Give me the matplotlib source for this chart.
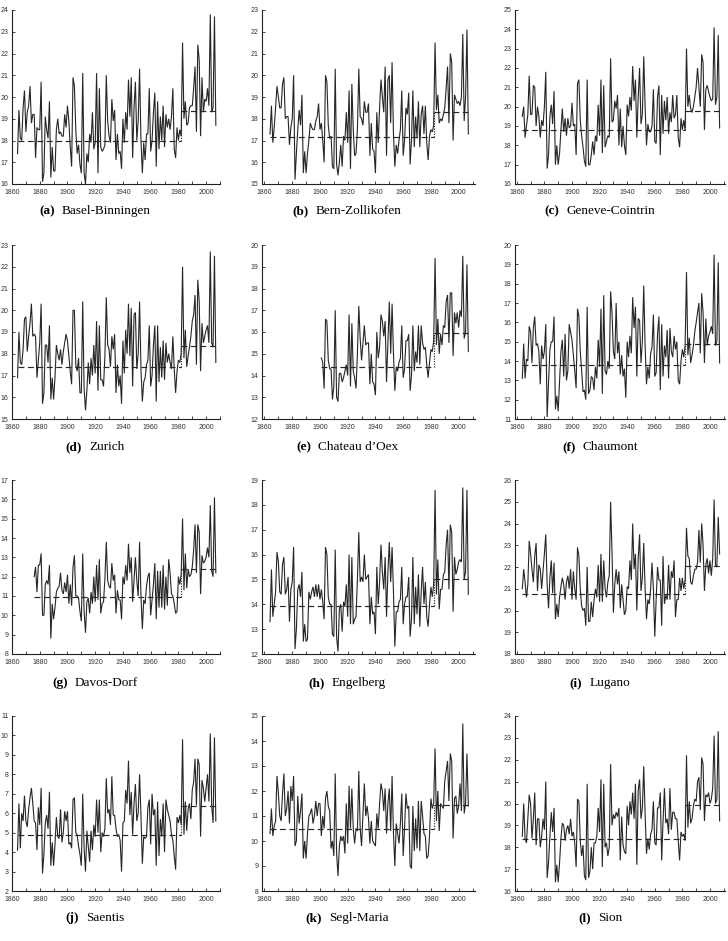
import numpy as np
import matplotlib
matplotlib.use("Agg")
import matplotlib.pyplot as plt
from matplotlib.ticker import MultipleLocator

# ---------------- data (July mean temperature, deg C) ----------------
basel_start = 1864
basel = [17.4, 19.4, 18.1, 18.0, 19.5, 20.3,
         18.4, 19.3, 19.6, 20.5, 18.8, 19.2, 19.2, 17.2, 18.6, 18.5,
         18.5, 20.7, 16.1, 16.5, 19.1, 18.5, 18.1, 19.8, 16.3, 17.7,
         16.6, 16.6, 18.5, 19.0, 18.3, 18.4, 18.2, 18.2, 19.2, 18.6,
         19.6, 18.9, 17.7, 16.8, 20.9, 20.5, 18.5, 17.4, 17.8, 16.9,
         16.5, 21.1, 16.5, 16.0, 17.4, 17.0, 18.3, 17.9, 19.3, 17.6,
         17.9, 21.1, 16.5, 20.4, 17.7, 17.5, 17.6, 17.8, 21.0, 18.9,
         18.2, 17.9, 19.9, 18.9, 19.4, 17.1, 18.3, 17.4, 17.5, 16.7,
         19.0, 17.9, 19.3, 18.5, 20.8, 19.1, 20.9, 17.2, 19.5, 20.7,
         18.0, 18.9, 21.3, 18.0, 16.5, 17.9, 17.1, 18.3, 18.3, 20.4,
         17.5, 18.0, 19.3, 20.2, 16.8, 19.8, 17.6, 19.1, 18.0, 19.6,
         17.7, 19.2, 18.6, 19.0, 18.5, 19.1, 20.4, 17.6, 17.2, 18.6,
         18.0, 18.5, 18.2, 22.5, 19.0, 19.8, 18.7, 18.8, 19.5, 19.6,
         19.6, 20.4, 21.4, 18.4, 22.4, 21.7, 18.2, 20.9, 19.3, 19.9,
         19.8, 20.4, 19.6, 23.8, 19.3, 19.5, 23.7, 18.7]

bern_start = 1864
bern = [17.3, 18.6, 16.9, 17.6, 18.5, 19.5,
        19.0, 18.5, 18.5, 19.6, 19.9, 18.0, 18.1, 18.1, 16.8, 17.6,
        18.0, 20.0, 15.2, 16.4, 17.5, 18.4, 17.7, 19.1, 15.5, 16.5,
        15.5, 16.4, 17.0, 17.8, 17.6, 17.5, 17.5, 17.9, 18.1, 18.7,
        17.5, 17.8, 17.0, 16.0, 20.0, 19.7, 17.7, 17.1, 17.2, 15.8,
        15.7, 20.3, 15.9, 15.4, 16.0, 16.8, 15.8, 17.2, 17.0, 18.3,
        16.9, 19.3, 15.7, 19.6, 17.5, 16.3, 16.4, 17.5, 20.3, 18.1,
        18.0, 17.7, 18.8, 18.3, 18.3, 18.7, 16.3, 17.8, 16.6, 16.5,
        15.5, 18.3, 16.9, 18.5, 19.8, 19.0, 18.3, 20.4, 16.3, 19.8,
        20.0, 17.8, 20.6, 17.3, 15.8, 16.8, 16.4, 17.0, 17.5, 19.3,
        16.3, 17.0, 18.5, 18.2, 19.2, 15.9, 17.0, 19.3, 16.7, 18.1,
        17.1, 18.8, 16.7, 18.2, 18.6, 17.3, 18.6, 16.9, 16.1, 17.2,
        17.5, 17.4, 17.7, 21.5, 18.4, 19.1, 17.8, 18.0, 17.9, 18.2,
        18.5, 19.4, 20.4, 17.8, 21.0, 20.6, 17.0, 19.1, 18.9, 18.7,
        18.8, 18.6, 19.0, 21.9, 17.9, 19.0, 22.1, 17.3]

geneve_start = 1864
geneve = [19.5, 20.0, 18.4, 19.0, 19.6, 21.6,
          19.6, 19.6, 21.1, 21.0, 19.0, 20.0, 19.5, 18.4, 19.3, 19.0,
          20.0, 21.8, 16.8, 17.5, 19.5, 20.1, 19.1, 20.8, 17.0, 18.0,
          17.0, 17.6, 18.8, 19.9, 18.7, 19.4, 18.5, 19.4, 18.9, 19.0,
          20.2, 19.0, 19.1, 17.5, 21.2, 21.4, 19.3, 18.5, 17.9, 17.2,
          16.9, 21.4, 17.0, 17.0, 17.5, 18.2, 17.5, 18.5, 18.2, 20.1,
          18.5, 21.4, 17.6, 21.1, 17.9, 18.2, 18.5, 18.4, 22.5, 19.2,
          19.3, 20.3, 19.9, 20.6, 18.0, 19.9, 17.9, 19.0, 18.0, 17.5,
          20.1, 19.5, 20.5, 19.8, 22.1, 20.3, 21.4, 18.4, 20.5, 22.0,
          19.1, 19.6, 22.6, 20.0, 18.0, 19.1, 18.7, 18.7, 19.0, 20.9,
          18.2, 18.1, 20.5, 21.1, 17.5, 20.6, 18.6, 20.3, 19.3, 20.5,
          18.6, 19.7, 19.2, 20.6, 19.4, 19.6, 20.6, 18.4, 17.9, 19.4,
          18.8, 19.3, 18.8, 23.0, 20.0, 20.6, 19.9, 19.7, 20.0, 20.5,
          21.0, 22.0, 21.0, 20.0, 22.7, 22.3, 18.8, 20.9, 21.1, 20.8,
          20.5, 20.3, 20.4, 24.1, 20.1, 20.5, 23.7, 18.9]

zurich_start = 1864
zurich = [16.9, 19.0, 17.6, 17.5, 18.2, 19.6,
          19.7, 18.1, 18.8, 19.4, 20.3, 18.8, 18.9, 18.8, 16.9, 17.7,
          18.5, 20.3, 15.7, 16.2, 18.4, 18.4, 17.6, 19.3, 15.9, 16.9,
          15.9, 16.9, 18.4, 18.0, 17.7, 18.2, 17.5, 18.1, 18.5, 18.9,
          18.6, 17.9, 17.2, 16.6, 20.0, 20.0, 17.5, 17.2, 17.8, 16.2,
          16.2, 20.4, 16.4, 15.4, 16.3, 17.6, 16.6, 17.8, 17.0, 18.4,
          17.1, 19.5, 16.3, 19.3, 16.8, 16.8, 16.5, 17.9, 20.6, 18.4,
          18.2, 17.4, 18.8, 18.2, 18.9, 16.2, 17.5, 16.5, 17.0, 15.7,
          18.6, 17.1, 19.1, 18.0, 20.3, 17.9, 20.1, 16.5, 19.8, 19.9,
          17.3, 18.0, 20.4, 17.3, 15.8, 16.7, 16.9, 17.5, 17.7, 19.3,
          16.5, 17.0, 18.4, 19.3, 15.8, 19.3, 16.7, 18.3, 16.9, 18.6,
          16.8, 18.5, 17.6, 18.0, 17.6, 17.3, 18.8, 17.3, 16.2, 17.2,
          17.7, 17.6, 18.0, 22.0, 17.8, 19.1, 17.4, 17.9, 18.3, 18.8,
          19.5, 19.8, 20.7, 17.5, 21.4, 20.4, 17.2, 19.4, 18.5, 18.8,
          19.1, 19.3, 18.5, 22.7, 18.5, 18.3, 22.5, 17.6]

chateau_start = 1901
chateau = [14.8, 14.6, 13.4, 16.6, 16.5, 14.7, 14.3, 14.3, 12.9,
           13.5, 17.0, 13.0, 12.8, 14.1, 14.1, 13.7, 13.9, 14.2, 14.5,
           14.0, 16.8, 13.5, 16.4, 14.2, 13.9, 13.4, 15.0, 17.2, 15.7,
           14.7, 15.5, 16.3, 15.4, 15.5, 15.5, 13.6, 15.0, 13.7, 13.6,
           13.1, 16.0, 14.8, 15.3, 16.8, 16.5, 15.8, 16.5, 13.7, 15.5,
           17.4, 15.0, 17.3, 15.0, 13.3, 14.4, 14.2, 14.6, 14.8, 16.3,
           13.9, 14.3, 15.6, 15.6, 15.9, 13.3, 14.0, 16.3, 14.2, 15.1,
           14.6, 16.3, 14.5, 16.3, 15.5, 15.2, 15.3, 14.5, 13.9, 14.6,
           15.2, 15.1, 15.6, 19.4, 15.4, 16.6, 15.0, 15.9, 15.4, 16.3,
           16.2, 17.4, 17.7, 15.5, 17.8, 17.8, 14.9, 16.9, 16.4, 16.9,
           16.2, 17.0, 16.7, 19.5, 15.7, 16.0, 19.1, 15.1]

chaumont_start = 1864
chaumont = [13.1, 14.9, 13.1, 14.1, 14.0, 15.8,
            15.5, 13.9, 15.7, 16.3, 14.8, 14.9, 14.5, 12.8, 14.8, 14.1,
            14.5, 15.9, 11.1, 12.8, 14.6, 15.0, 15.0, 16.3, 11.5, 12.2,
            11.4, 13.0, 14.5, 15.1, 13.2, 15.4, 13.0, 13.5, 15.9, 15.5,
            15.1, 14.3, 13.5, 12.6, 16.7, 16.3, 14.5, 13.5, 12.4, 12.5,
            12.0, 16.8, 12.3, 12.5, 13.2, 13.1, 12.5, 13.7, 13.1, 15.1,
            13.7, 16.7, 12.3, 17.4, 13.5, 13.3, 14.0, 13.6, 17.6, 16.5,
            14.5, 14.1, 17.0, 14.4, 15.0, 13.3, 14.3, 13.2, 13.6, 12.1,
            15.0, 14.2, 15.3, 14.4, 17.3, 15.7, 16.8, 13.2, 16.2, 16.1,
            13.9, 15.0, 17.9, 14.8, 12.8, 13.7, 13.1, 14.4, 14.7, 16.4,
            13.2, 13.4, 15.4, 16.3, 12.5, 15.9, 13.2, 14.8, 14.2, 15.6,
            13.1, 15.7, 14.5, 14.2, 15.3, 14.6, 15.0, 13.0, 12.8, 14.0,
            14.6, 14.2, 14.8, 18.6, 14.3, 15.2, 13.9, 14.3, 14.8, 15.5,
            16.0, 16.5, 17.0, 14.4, 17.5, 16.5, 13.9, 16.2, 14.8, 15.3,
            15.5, 15.8, 15.4, 19.5, 14.8, 15.0, 19.1, 13.9]

davos_start = 1876
davos = [12.0, 12.5, 11.2, 12.6,
         12.6, 13.2, 10.0, 10.0, 11.6, 11.8, 11.6, 12.6, 8.8, 10.6,
         9.8, 10.4, 11.2, 11.4, 11.5, 12.2, 11.3, 11.1, 11.7, 11.2,
         12.1, 10.6, 11.6, 10.5, 12.5, 13.1, 11.0, 11.0, 10.9, 10.2,
         9.7, 13.2, 10.2, 9.1, 10.7, 10.9, 10.1, 11.2, 10.6, 12.0,
         10.7, 12.6, 10.8, 12.9, 10.1, 10.6, 10.7, 11.9, 13.8, 11.8,
         11.5, 11.4, 12.7, 11.8, 12.1, 10.1, 11.3, 10.8, 10.8, 9.8,
         12.0, 11.6, 12.6, 11.8, 13.7, 12.2, 13.0, 10.7, 11.8, 13.0,
         11.8, 11.0, 13.8, 11.0, 9.3, 10.8, 10.6, 11.5, 12.0, 12.2,
         10.0, 10.8, 11.6, 12.7, 9.8, 12.3, 10.4, 12.3, 10.4, 12.6,
         10.3, 12.0, 10.5, 12.9, 12.2, 11.1, 11.0, 10.6, 10.1, 10.2,
         12.0, 11.6, 12.1, 15.0, 11.3, 13.2, 11.4, 12.4, 12.0, 12.1,
         12.5, 13.4, 14.7, 12.2, 14.7, 14.3, 11.1, 13.1, 12.7, 12.8,
         13.0, 13.5, 13.0, 15.7, 12.3, 12.0, 16.1, 12.2]

engelberg_start = 1864
engelberg = [13.3, 15.4, 13.5, 14.0, 14.5, 16.1,
             15.7, 14.5, 14.4, 15.6, 15.9, 14.4, 14.6, 15.1, 13.3, 14.6,
             14.9, 16.3, 12.2, 13.0, 14.6, 14.8, 14.3, 15.3, 12.5, 13.2,
             12.5, 12.6, 14.5, 14.2, 14.5, 14.7, 14.3, 14.8, 14.3, 14.8,
             14.2, 14.6, 14.1, 13.4, 16.3, 16.0, 14.3, 14.0, 14.0, 12.8,
             12.7, 16.2, 12.7, 12.1, 13.8, 14.0, 12.9, 14.1, 13.9, 14.8,
             13.5, 16.0, 13.2, 15.9, 13.2, 13.4, 13.5, 15.0, 16.9, 14.9,
             15.1, 14.9, 16.0, 15.0, 15.1, 15.2, 13.2, 14.3, 13.6, 13.7,
             12.8, 15.5, 14.0, 14.9, 16.4, 15.3, 14.6, 15.9, 13.5, 15.3,
             16.5, 14.9, 16.3, 14.5, 12.3, 13.7, 13.7, 14.1, 14.2, 15.5,
             13.2, 14.0, 14.3, 14.3, 15.1, 12.7, 13.4, 15.9, 13.2, 14.7,
             13.6, 15.2, 13.1, 14.5, 15.5, 14.0, 14.9, 13.5, 13.1, 14.0,
             14.7, 14.3, 14.8, 18.6, 14.4, 15.8, 13.8, 14.6, 14.6, 15.2,
             15.3, 16.4, 17.0, 14.6, 17.2, 16.9, 13.7, 15.9, 15.2, 15.4,
             15.7, 15.8, 15.7, 18.7, 15.0, 15.3, 18.6, 14.4]

lugano_start = 1864
lugano = [21.0, 21.9, 21.3, 20.6, 21.2, 23.2,
          22.6, 21.9, 21.3, 22.5, 23.1, 20.9, 22.1, 21.9, 21.0, 21.8,
          22.6, 23.5, 21.2, 20.1, 21.5, 22.3, 20.8, 22.2, 19.6, 20.3,
          19.7, 20.6, 21.1, 21.5, 21.2, 20.5, 21.3, 21.6, 21.0, 21.9,
          20.5, 21.8, 21.0, 20.5, 22.9, 22.5, 21.0, 20.2, 20.0, 20.1,
          19.3, 22.0, 19.5, 19.5, 20.4, 19.7, 20.5, 21.0, 20.6, 22.1,
          20.4, 22.6, 20.4, 22.3, 21.0, 20.6, 21.3, 21.6, 25.0, 22.7,
          19.9, 21.2, 21.9, 21.2, 21.8, 20.1, 21.2, 20.5, 19.8, 20.0,
          21.1, 21.0, 22.3, 21.4, 24.0, 21.9, 22.6, 20.0, 22.4, 23.5,
          20.9, 21.5, 23.1, 21.0, 19.6, 20.5, 20.3, 21.0, 22.2, 21.0,
          18.8, 20.5, 22.0, 21.4, 21.4, 19.3, 22.5, 20.3, 20.7, 20.5,
          22.1, 20.5, 21.8, 21.5, 22.3, 19.7, 20.5, 20.5, 21.5, 20.9,
          21.5, 21.0, 21.4, 23.8, 22.5, 22.4, 21.3, 21.2, 21.6, 21.9,
          21.9, 22.2, 23.7, 22.2, 24.0, 23.0, 20.9, 22.1, 22.4, 21.7,
          22.3, 21.6, 22.4, 25.1, 22.1, 22.0, 24.3, 22.6]

saentis_start = 1864
saentis = [4.1, 6.5, 4.2, 6.0, 5.6, 6.9,
           5.6, 5.3, 6.2, 6.8, 7.3, 6.5, 5.6, 5.5, 4.1, 6.3,
           5.4, 7.3, 2.9, 3.9, 5.5, 5.9, 5.2, 7.1, 3.3, 4.5,
           3.3, 4.4, 5.8, 4.8, 4.7, 6.2, 4.5, 5.0, 6.1, 5.6,
           6.1, 4.4, 4.5, 4.2, 6.7, 6.8, 5.0, 4.9, 4.3, 3.9,
           3.3, 7.0, 4.2, 3.0, 5.1, 4.3, 3.5, 5.1, 4.1, 5.4,
           4.8, 6.7, 5.0, 6.7, 4.0, 5.0, 4.8, 5.2, 7.8, 6.0,
           6.2, 5.4, 7.9, 5.9, 5.9, 5.2, 4.8, 4.9, 4.6, 3.0,
           5.5, 5.6, 7.2, 6.5, 8.7, 5.9, 7.1, 4.9, 6.5, 7.5,
           5.6, 6.0, 8.0, 5.9, 3.4, 4.8, 4.7, 4.8, 6.3, 6.7,
           4.4, 7.0, 5.9, 6.2, 3.3, 6.6, 3.8, 5.7, 4.8, 6.5,
           4.0, 6.7, 6.2, 5.9, 5.6, 4.9, 4.6, 3.8, 3.1, 5.8,
           5.5, 5.9, 5.4, 9.8, 4.9, 6.6, 5.1, 6.2, 6.5, 5.7,
           7.2, 7.6, 8.8, 6.4, 8.8, 8.5, 4.8, 7.7, 7.3, 6.6,
           7.3, 8.0, 6.6, 10.1, 6.4, 5.5, 9.9, 5.6]

segl_start = 1864
segl = [10.3, 11.3, 10.2, 10.6, 10.8, 12.6,
        11.9, 11.0, 10.8, 11.9, 12.7, 11.0, 11.3, 12.0, 10.7, 12.2,
        11.6, 12.6, 9.8, 10.0, 11.8, 10.7, 11.2, 11.9, 9.3, 10.0,
        9.3, 10.3, 11.0, 11.1, 11.3, 10.7, 11.0, 11.6, 11.0, 11.5,
        11.5, 10.2, 11.0, 10.5, 11.7, 12.0, 11.4, 11.2, 9.7, 10.0,
        9.4, 12.7, 9.5, 8.6, 9.8, 10.2, 10.0, 10.2, 9.5, 11.5,
        9.9, 12.2, 10.5, 12.1, 10.5, 9.9, 10.5, 10.4, 12.8, 10.5,
        9.8, 11.1, 12.3, 11.0, 11.4, 10.9, 9.9, 10.8, 10.0, 9.9,
        9.8, 11.1, 10.5, 11.5, 12.3, 12.0, 11.2, 12.1, 10.3, 11.5,
        12.1, 10.4, 12.6, 10.3, 9.0, 10.7, 10.3, 9.9, 10.7, 11.9,
        9.4, 10.5, 11.9, 11.3, 11.4, 9.0, 8.9, 11.4, 9.6, 10.9,
        9.7, 11.6, 9.6, 11.6, 11.0, 10.3, 10.2, 9.3, 9.4, 10.2,
        11.7, 11.3, 11.5, 13.7, 10.8, 12.0, 10.4, 11.5, 11.4, 11.3,
        12.4, 12.8, 13.2, 11.6, 13.5, 13.2, 10.1, 11.7, 11.8, 11.1,
        11.4, 12.3, 11.2, 14.7, 11.1, 11.5, 13.5, 11.4]

sion_start = 1864
sion = [18.5, 20.0, 18.4, 18.2, 19.3, 20.4,
        20.0, 18.4, 19.3, 20.5, 18.1, 19.3, 19.3, 18.0, 18.5, 19.3,
        18.8, 21.0, 16.6, 17.3, 18.5, 19.6, 18.7, 19.8, 16.4, 17.2,
        16.4, 17.3, 18.4, 19.1, 19.0, 18.3, 18.8, 19.0, 18.6, 19.3,
        18.5, 18.7, 18.2, 17.1, 20.2, 20.1, 18.3, 17.6, 18.1, 16.7,
        16.5, 20.9, 16.6, 16.9, 18.0, 17.0, 18.2, 18.2, 18.5, 19.8,
        18.7, 21.1, 17.1, 20.9, 18.0, 18.2, 17.6, 18.0, 21.8, 19.0,
        19.5, 19.3, 19.6, 19.4, 19.8, 17.4, 19.4, 18.1, 17.8, 17.7,
        19.9, 19.0, 20.1, 19.5, 20.5, 19.3, 20.9, 17.2, 20.6, 21.1,
        19.3, 19.8, 21.7, 19.5, 17.7, 18.4, 17.9, 18.6, 18.8, 20.1,
        18.2, 18.1, 19.8, 19.8, 20.5, 17.4, 19.2, 20.7, 19.1, 19.3,
        18.6, 20.7, 18.8, 19.6, 19.6, 19.3, 19.3, 18.3, 17.4, 18.7,
        18.5, 18.6, 18.3, 22.2, 18.9, 20.1, 19.1, 19.3, 19.9, 20.2,
        20.1, 21.0, 21.2, 19.7, 22.1, 21.8, 19.2, 20.4, 20.3, 20.5,
        20.0, 20.2, 20.7, 23.1, 20.0, 20.2, 23.3, 19.2]

# segment levels (before / after the 1982 shift) as drawn
break_year = 1982
means_before = [18.0, 17.18, 18.8, 17.38, 14.39, 13.79, 10.93, 13.93, 20.76, 4.86, 10.47, 18.4]
means_after = [19.35, 18.33, 19.8, 18.36, 15.97, 14.9, 12.38, 15.03, 22.05, 6.37, 11.43, 19.92]

panel_letters = ["(a)", "(b)", "(c)", "(d)", "(e)", "(f)", "(g)", "(h)", "(i)", "(j)", "(k)", "(l)"]
station_names = ["Basel-Binningen", "Bern-Zollikofen", "Geneve-Cointrin", "Zurich",
                 "Chateau d\u2019Oex", "Chaumont", "Davos-Dorf", "Engelberg",
                 "Lugano", "Saentis", "Segl-Maria", "Sion"]
series = [basel, bern, geneve, zurich, chateau, chaumont, davos, engelberg,
          lugano, saentis, segl, sion]
starts = [basel_start, bern_start, geneve_start, zurich_start, chateau_start,
          chaumont_start, davos_start, engelberg_start, lugano_start,
          saentis_start, segl_start, sion_start]
y_ranges = [(16, 24), (15, 23), (16, 25), (15, 23), (12, 20), (11, 20),
            (8, 17), (12, 19), (18, 26), (2, 11), (8, 15), (16, 24)]

# ---------------- layout ----------------
W, H = 728, 941
fig = plt.figure(figsize=(W / 100, H / 100), dpi=100)
fig.patch.set_facecolor("white")

col_px = [(12, 220), (262, 475), (515, 725)]
row_px = [(10, 184), (245, 419), (480, 654), (716, 891)]
col_xlim = [(1860, 2010), (1858.2, 2011.8), (1858.7, 2010.9)]
cap_x = [95, 347, 600]
cap_y = [211, 447, 683, 918]

line_col = "#262626"
fig.canvas.draw()
renderer = fig.canvas.get_renderer()

for i in range(12):
    r, c = divmod(i, 3)
    x0, x1 = col_px[c]
    y0, y1 = row_px[r]
    ax = fig.add_axes([x0 / W, 1 - y1 / H, (x1 - x0) / W, (y1 - y0) / H])
    vals = np.array(series[i], dtype=float)
    yrs = starts[i] + np.arange(len(vals))
    ax.plot(yrs, vals, color=line_col, lw=0.8, solid_joinstyle="miter")

    m1, m2 = means_before[i], means_after[i]
    ax.plot([yrs[0], break_year], [m1, m1], color=line_col, lw=0.85,
            dashes=(5, 3))
    ax.plot([break_year, break_year], [m1, m2], color=line_col, lw=0.85,
            dashes=(1, 1.2))
    ax.plot([break_year, yrs[-1]], [m2, m2], color=line_col, lw=0.85,
            dashes=(5, 3))

    ax.set_xlim(*col_xlim[c])
    ax.set_ylim(*y_ranges[i])
    ax.xaxis.set_major_locator(MultipleLocator(20))
    ax.xaxis.set_minor_locator(MultipleLocator(10))
    ax.yaxis.set_major_locator(MultipleLocator(1))
    for s in ("top", "right"):
        ax.spines[s].set_visible(False)
    for s in ("left", "bottom"):
        ax.spines[s].set_linewidth(0.8)
        ax.spines[s].set_color("#222222")
    ax.tick_params(axis="both", which="major", labelsize=5, colors="#222222",
                   labelcolor="#333333", width=0.6, length=2.5,
                   direction="in")
    ax.tick_params(axis="x", which="major", pad=3.5)
    ax.tick_params(axis="y", which="major", pad=2.5)
    ax.tick_params(axis="x", which="minor", width=0.6, length=2.5,
                   direction="in", colors="#222222")
    for lab in ax.get_xticklabels() + ax.get_yticklabels():
        lab.set_family(["Liberation Sans", "DejaVu Sans"])

    # caption: bold letter + regular name, centred as a group
    cx, cy = cap_x[c], cap_y[r]
    t1 = fig.text(0, 1 - cy / H, panel_letters[i], fontsize=9.5, fontweight="bold",
                  family="Liberation Serif", va="center", ha="left")
    t2 = fig.text(0, 1 - cy / H, station_names[i], fontsize=9.5,
                  family="Liberation Serif", va="center", ha="left")
    w1 = t1.get_window_extent(renderer).width
    w2 = t2.get_window_extent(renderer).width
    gap = 7
    total = w1 + gap + w2
    left = cx - total / 2
    t1.set_x(left / W)
    t2.set_x((left + w1 + gap) / W)

fig.savefig("out.png", dpi=100, facecolor="white")
